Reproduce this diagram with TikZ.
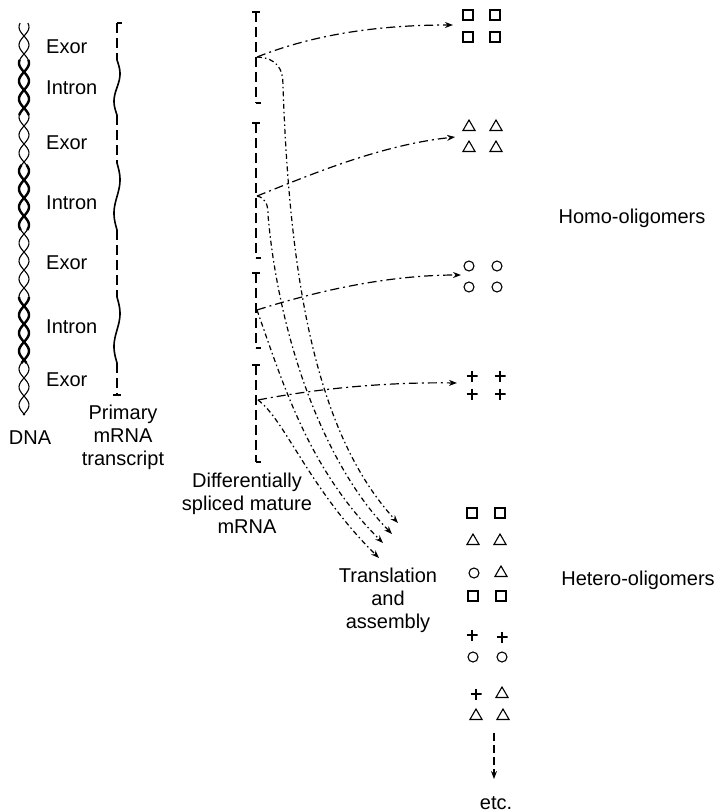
\documentclass[tikz,border=0pt]{standalone}
\usepackage{fontspec}
\setmainfont{Liberation Sans}
\usetikzlibrary{arrows.meta,shapes.geometric}

\begin{document}
\begin{tikzpicture}[x=1pt,y=-1pt,
  lbl/.style={font=\fontsize{20}{23}\selectfont,inner sep=0pt,align=center},
  strand/.style={line width=1.3pt,dash pattern=on 10pt off 5pt},
  route/.style={line width=1.2pt,dash pattern=on 9pt off 4pt on 2pt off 4pt,-{Stealth[length=8pt,width=6pt]}},
  feed/.style={line width=1.2pt,dash pattern=on 5pt off 3pt on 1.5pt off 3pt,-{Stealth[length=8pt,width=6pt]}},
  sqr/.style={draw,line width=1.1pt,minimum size=10pt,inner sep=0pt},
  tri/.style={draw,line width=1.1pt,regular polygon,regular polygon sides=3,minimum size=14pt,inner sep=0pt},
  circ/.style={draw,line width=1.1pt,circle,minimum size=10pt,inner sep=0pt},
  crs/.style={minimum size=11pt,inner sep=0pt,
    path picture={\draw[line width=1.1pt]
      (path picture bounding box.north) -- (path picture bounding box.south)
      (path picture bounding box.west) -- (path picture bounding box.east);}}]
\fill[white] (0,0) rectangle (720,812);
\useasboundingbox (0,0) rectangle (720,812);

% DNA double helix, bold over the introns
\draw[line width=1.1pt] plot[domain=23:415,samples=180,variable=\t] ({24+5*sin(10*\t)},\t);
\draw[line width=1.1pt] plot[domain=23:415,samples=180,variable=\t] ({24-5*sin(10*\t)},\t);
\foreach \a/\b in {60/115,165/230,297/363} {
  \draw[line width=2.4pt] plot[domain=\a:\b,samples=50,variable=\t] ({24+5*sin(10*\t)},\t);
  \draw[line width=2.4pt] plot[domain=\a:\b,samples=50,variable=\t] ({24-5*sin(10*\t)},\t);
}
\node[lbl,anchor=west] (ex1) at (46,47) {Exor};
\node[lbl,anchor=west] (in1) at (46,88) {Intron};
\node[lbl,anchor=west] (ex2) at (46,143) {Exor};
\node[lbl,anchor=west] (in2) at (46,203) {Intron};
\node[lbl,anchor=west] (ex3) at (46,263) {Exor};
\node[lbl,anchor=west] (in3) at (46,327) {Intron};
\node[lbl,anchor=west] (ex4) at (46,380) {Exor};
\node[lbl] (dna) at (30,438) {DNA};

% primary transcript
\draw[line width=1.3pt] (117,23) -- (122,23);
\foreach \a/\b in {23/60,115/163,230/297,363/395} \draw[strand] (117,\a) -- (117,\b);
\foreach \a/\b in {60/115,163/230,297/363}
  \draw[line width=1.6pt] plot[domain=\a:\b,samples=40,variable=\t] ({117+3*sin(360/(\b-\a)*(\t-\a))},\t);
\draw[line width=1.3pt] (113,395) -- (121,395);
\node[lbl] (primary) at (123,437) {Primary\\mRNA\\transcript};

% mature mRNAs
\foreach \a/\b in {12/103,123/258,273/348,365/462} {
  \draw[strand] (256,\a) -- (256,\b);
  \draw[line width=1.3pt] (252,\a) -- (260,\a);
  \draw[line width=1.3pt] (256,\b) -- (261,\b);
}
\node[lbl] (mature) at (247,503) {Differentially\\spliced mature\\mRNA};
\coordinate (j1) at (257,57);
\coordinate (j2) at (257,196);
\coordinate (j3) at (257,310);
\coordinate (j4) at (258,400);

% homo-oligomers
\node[sqr] (hs1) at (468,15) {};
\node[sqr] (hs2) at (495,15) {};
\node[sqr] (hs3) at (468,37) {};
\node[sqr] (hs4) at (495,37) {};
\node[tri] (ht1) at (469,127) {};
\node[tri] (ht2) at (496,127) {};
\node[tri] (ht3) at (469,148) {};
\node[tri] (ht4) at (496,148) {};
\node[circ] (hc1) at (469,266) {};
\node[circ] (hc2) at (497,266) {};
\node[circ] (hc3) at (469,287) {};
\node[circ] (hc4) at (497,287) {};
\node[crs] (hp1) at (472,376) {};
\node[crs] (hp2) at (500,376) {};
\node[crs] (hp3) at (472,394) {};
\node[crs] (hp4) at (500,394) {};
\node[lbl] (homo) at (632,218) {Homo-oligomers};
\coordinate (homoSq) at (453,25);
\coordinate (homoTri) at (455,137);
\coordinate (homoCirc) at (461,275);
\coordinate (homoPlus) at (457,383);

\draw[route] (j1) .. controls (300,40) and (360,25) .. (homoSq);
\draw[route] (j2) .. controls (310,175) and (380,145) .. (homoTri);
\draw[route] (j3) .. controls (320,290) and (390,275) .. (homoCirc);
\draw[route] (j4) .. controls (320,388) and (390,382) .. (homoPlus);

% translation routes
\coordinate (trA) at (398,523);
\coordinate (trB) at (392,534);
\coordinate (trC) at (383,543);
\coordinate (trD) at (379,558);
\draw[feed] (j1) .. controls (278,58) and (283,70) .. (283,85) .. controls (290,300) and (322,440) .. (trA);
\draw[feed] (j2) .. controls (266,198) and (268,205) .. (268,215) .. controls (278,330) and (320,460) .. (trB);
\draw[feed] (j3) .. controls (285,390) and (310,470) .. (trC);
\draw[feed] (j4) .. controls (285,420) and (310,490) .. (trD);
\node[lbl] (transl) at (388,600) {Translation\\and\\assembly};

% hetero-oligomers
\node[sqr] (es1) at (472,513) {};
\node[sqr] (es2) at (500,513) {};
\node[tri] (et1) at (473,541) {};
\node[tri] (et2) at (500,541) {};
\node[circ] (ec1) at (474,573) {};
\node[tri] (et3) at (501,573) {};
\node[sqr] (es3) at (473,596) {};
\node[sqr] (es4) at (501,596) {};
\node[crs] (ep1) at (472,635) {};
\node[crs] (ep2) at (502,637) {};
\node[circ] (ec2) at (473,657) {};
\node[circ] (ec3) at (502,657) {};
\node[crs] (ep3) at (476,694) {};
\node[tri] (et4) at (502,694) {};
\node[tri] (et5) at (476,716) {};
\node[tri] (et6) at (503,716) {};
\node[lbl] (hetero) at (638,580) {Hetero-oligomers};
\coordinate (etcFrom) at (494,733);
\coordinate (etcTo) at (494,779);
\draw[line width=1.2pt,dash pattern=on 8pt off 4pt,-{Stealth[length=8pt,width=6pt]}] (etcFrom) -- (etcTo);
\node[lbl] (etc) at (496,803) {etc.};
\end{tikzpicture}
\end{document}
